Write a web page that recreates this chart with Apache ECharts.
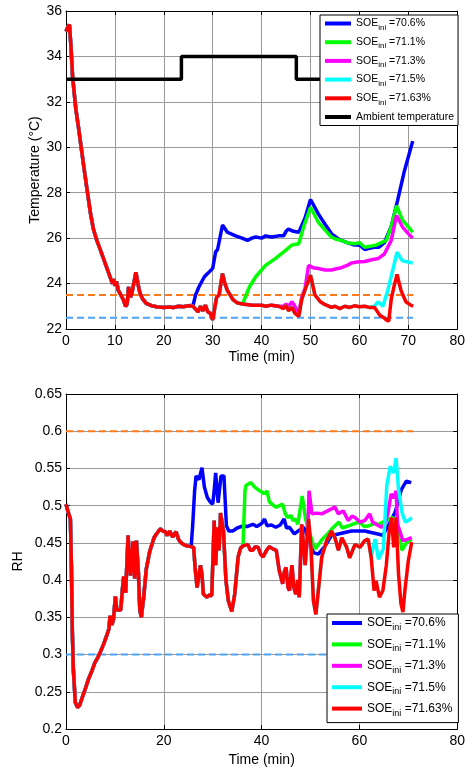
<!DOCTYPE html>
<html>
<head>
<meta charset="utf-8">
<script src="https://cdn.jsdelivr.net/npm/echarts@6/dist/echarts.min.js"></script>
<style>
html,body{margin:0;padding:0;background:#fff;}
#chart{width:468px;height:771px;}
</style>
</head>
<body>
<div id="chart"></div>
<script>
// ---------- tick labels ----------
var timeTicksTop = [0,10,20,30,40,50,60,70,80];
var timeTicksBottom = [0,20,40,60,80];
var tempTicks = [22,24,26,28,30,32,34,36];
var rhTicks = [0.2,0.25,0.3,0.35,0.4,0.45,0.5,0.55,0.6,0.65];

// ---------- legend labels ----------
var soeValues = ['70.6%','71.1%','71.3%','71.5%','71.63%'];
var ambientName = 'Ambient temperature';

// ---------- temperature (°C) vs time (min) ----------
var tempRed = [[0,35.1],[0.4,35.3],[0.7,35.4],[1.0,34.5],[1.35,33.1],[2.0,31.7],[2.6,30.8],[3.1,30.0],[3.8,28.9],[4.4,28.0],[5.0,27.1],[5.6,26.4],[6.3,25.9],[7.0,25.5],[8.0,24.9],[9.0,24.3],[9.5,24.0],[9.8,24.2],[10.0,23.9],[10.3,24.1],[10.7,23.7],[11.2,23.5],[11.7,23.3],[12.2,23.0],[12.5,23.1],[12.8,23.85],[13.2,23.4],[13.5,23.6],[14.3,24.5],[14.7,24.0],[15.1,23.6],[15.6,23.35],[16.4,23.13],[17.5,23.03],[18.5,22.98],[20,22.95],[21,22.97],[22,22.95],[23,23.0],[24,22.98],[25,23.02],[26,23.0],[26.6,22.85],[27,22.75],[27.5,23.0],[28,22.8],[28.5,23.05],[29,22.75],[29.5,22.7],[30,22.4],[30.4,22.9],[30.8,23.4],[31.3,23.5],[32.0,24.44],[32.5,24.0],[33,23.7],[34.1,23.3],[35,23.15],[36.1,23.1],[38.1,23.05],[40,23.05],[40.8,23.0],[42,23.05],[43.5,23.0],[44.5,22.9],[45,23.05],[45.5,22.8],[46.2,22.95],[46.8,22.7],[47.6,22.55],[48.2,23.3],[49,23.8],[50,24.37],[50.9,23.5],[52,23.2],[53,23.07],[54.3,22.95],[55,23.0],[56,22.9],[57,23.0],[58,22.95],[59,23.02],[60,22.98],[61.1,23.0],[62,22.95],[63.1,22.95],[64.2,22.6],[65,22.5],[65.5,22.4],[66,22.35],[66.5,23.3],[67.1,23.9],[67.7,24.4],[68.5,23.7],[69.5,23.2],[70.5,23.05],[71,23.0]];
var tempBlueTail = [[26.0,23.05],[26.5,23.5],[27.2,23.86],[28.3,24.3],[29,24.45],[30,24.67],[30.6,25.4],[31,25.5],[32,26.58],[33,26.26],[34.7,26.1],[36,26.0],[37.1,25.9],[38,26.0],[38.8,26.05],[40,26.0],[40.8,26.1],[42,26.05],[43.5,26.1],[44.5,26.1],[45,26.3],[45.5,26.4],[46.5,26.3],[47.6,26.26],[48.9,26.9],[50,27.7],[51.6,27.07],[53,26.6],[54.3,26.19],[55.5,26.0],[56.3,25.9],[57.5,25.8],[59,25.7],[60,25.7],[61.1,25.5],[62,25.55],[63.1,25.6],[64,25.6],[65.1,25.8],[66.5,26.5],[67.8,27.65],[69.2,28.96],[70.9,30.27]];
var tempGreenTail = [[36.1,23.1],[37.5,23.85],[38.8,24.3],[40.8,24.8],[42.8,25.1],[44.9,25.46],[46.2,25.7],[47.6,25.75],[48.6,26.5],[50,27.36],[51.6,26.7],[53,26.35],[54.3,26.04],[55.3,25.95],[56.3,25.9],[57.5,25.8],[59,25.75],[60,25.8],[61.1,25.6],[62.4,25.65],[63.5,25.7],[64.5,25.8],[65.5,25.9],[66.5,26.5],[67.6,27.43],[68.8,26.8],[70,26.5],[70.9,26.26]];
var tempMagentaTail = [[44.5,23.0],[45,23.1],[45.5,23.0],[46.2,23.2],[46.8,23.0],[47.6,22.7],[48.2,23.4],[48.9,23.8],[49.6,24.8],[50.5,24.7],[51.6,24.66],[53,24.6],[54.3,24.6],[55.3,24.65],[56.3,24.7],[57.5,24.8],[58.3,24.9],[59.5,24.95],[61.1,24.97],[62.5,25.05],[63.8,25.1],[65.1,25.3],[66.5,25.9],[67.6,27.0],[68.8,26.5],[70,26.2],[70.9,26.0]];
var tempCyanTail = [[63.1,23.0],[63.8,23.2],[64.8,23.0],[65.8,23.7],[66.8,24.58],[67.7,25.38],[68.8,25.0],[70,24.95],[70.9,24.9]];
var tempAmbient = [[0,33],[23.6,33],[23.6,34],[47.1,34],[47.1,33],[71,33]];
var tempUpperLimit = [[0,23.5],[71,23.5]];
var tempLowerLimit = [[0,22.5],[71,22.5]];

// ---------- relative humidity vs time (min) ----------
var rhRed = [[0,0.502],[0.5,0.49],[0.9,0.482],[1.1,0.42],[1.3,0.33],[1.5,0.28],[1.9,0.236],[2.35,0.229],[2.8,0.232],[3.2,0.24],[4.0,0.255],[4.6,0.267],[5.3,0.278],[5.9,0.289],[6.5,0.296],[7.0,0.303],[7.7,0.314],[8.3,0.325],[8.8,0.335],[9.0,0.352],[9.4,0.34],[9.7,0.347],[10.1,0.378],[10.4,0.36],[10.7,0.358],[11.2,0.36],[11.5,0.385],[11.8,0.405],[12.2,0.383],[12.7,0.46],[13.0,0.42],[13.2,0.406],[13.7,0.452],[14.05,0.402],[14.4,0.453],[14.8,0.41],[15.1,0.36],[15.4,0.35],[15.9,0.378],[16.4,0.414],[17.1,0.438],[18.0,0.457],[18.5,0.462],[19.3,0.469],[19.8,0.466],[20.3,0.465],[20.7,0.46],[21.2,0.466],[21.8,0.458],[22.5,0.465],[23.0,0.455],[23.4,0.451],[24.0,0.448],[24.7,0.446],[25.6,0.445],[26.1,0.444],[26.4,0.417],[26.8,0.39],[27.1,0.39],[27.5,0.42],[27.8,0.408],[28.1,0.381],[28.8,0.377],[29.3,0.38],[29.8,0.379],[30.3,0.48],[30.6,0.42],[31.0,0.471],[31.3,0.44],[31.6,0.49],[32.2,0.466],[32.7,0.4],[33.2,0.372],[33.9,0.358],[34.5,0.381],[35.2,0.431],[35.7,0.443],[36.2,0.446],[37.2,0.448],[37.7,0.44],[38.2,0.44],[38.7,0.445],[39.3,0.444],[39.8,0.435],[40.3,0.431],[41.0,0.44],[41.6,0.445],[42.3,0.442],[43.0,0.44],[43.6,0.413],[44.3,0.395],[44.6,0.41],[45.0,0.417],[45.4,0.39],[45.7,0.386],[46.2,0.42],[46.6,0.39],[47.0,0.381],[47.4,0.4],[47.7,0.377],[48.2,0.475],[48.6,0.445],[48.9,0.42],[49.6,0.482],[50.1,0.444],[50.6,0.372],[51.1,0.354],[51.6,0.386],[52.3,0.431],[53.3,0.453],[54.3,0.466],[55.0,0.457],[55.7,0.44],[56.4,0.457],[57.4,0.444],[58.0,0.43],[58.4,0.431],[59.1,0.448],[60.1,0.444],[61.1,0.453],[61.8,0.455],[62.4,0.431],[63.0,0.386],[63.4,0.399],[64.1,0.377],[64.8,0.386],[65.5,0.42],[66.1,0.466],[66.6,0.484],[67.0,0.444],[67.5,0.484],[68.0,0.408],[68.5,0.368],[68.9,0.357],[69.3,0.386],[70.0,0.426],[70.7,0.451]];
var rhBlueTail = [[25.9,0.473],[26.3,0.52],[26.6,0.54],[27.2,0.535],[27.8,0.551],[28.3,0.525],[28.9,0.511],[29.5,0.505],[30,0.502],[30.3,0.52],[30.6,0.544],[31.1,0.504],[31.7,0.54],[32.3,0.54],[32.8,0.473],[33.3,0.466],[34.1,0.466],[35,0.47],[36.2,0.473],[37,0.472],[38.2,0.475],[39,0.472],[40,0.476],[40.6,0.482],[41.1,0.473],[42,0.474],[42.9,0.471],[43.8,0.474],[44.6,0.482],[45.1,0.47],[45.7,0.471],[46.7,0.462],[47.5,0.466],[48.6,0.471],[49.6,0.455],[50.6,0.437],[51.6,0.435],[53.0,0.446],[54.3,0.46],[55.7,0.462],[57.0,0.464],[58.4,0.466],[59.7,0.466],[61.1,0.466],[62.4,0.464],[63.8,0.462],[64.8,0.46],[65.9,0.473],[67.3,0.491],[68.6,0.522],[69.6,0.533],[70.6,0.531]];
var rhGreenTail = [[36.6,0.52],[36.8,0.527],[37.8,0.531],[38.6,0.525],[39.6,0.52],[40.6,0.516],[41.1,0.52],[41.6,0.505],[42.5,0.5],[43.0,0.498],[44.3,0.502],[44.8,0.49],[45.3,0.484],[46.0,0.487],[46.4,0.48],[47.0,0.482],[47.4,0.475],[48.3,0.513],[49.0,0.482],[49.5,0.47],[50.4,0.451],[51.0,0.442],[52.4,0.455],[53.5,0.462],[54.4,0.469],[55.8,0.478],[56.5,0.47],[57.8,0.473],[59,0.476],[60,0.478],[61,0.472],[62,0.473],[63,0.476],[64,0.475],[65.4,0.48],[66.7,0.484],[67.7,0.48],[68.7,0.44],[69.7,0.451],[70.7,0.455]];
var rhMagentaTail = [[49.4,0.46],[49.7,0.52],[50.3,0.489],[51.2,0.49],[52.3,0.489],[53.5,0.493],[55.0,0.498],[55.7,0.489],[56.7,0.493],[57.7,0.48],[58.5,0.486],[59.1,0.484],[60.1,0.478],[61.1,0.48],[62.1,0.489],[62.7,0.478],[63.4,0.475],[64.5,0.471],[65.2,0.475],[65.8,0.489],[66.5,0.516],[67.0,0.51],[67.5,0.52],[67.8,0.475],[68.9,0.453],[69.9,0.455],[70.7,0.457]];
var rhCyanTail = [[62.8,0.431],[63.2,0.455],[63.9,0.428],[64.9,0.442],[65.6,0.527],[66.3,0.553],[67,0.544],[67.5,0.564],[68,0.522],[68.7,0.491],[69.4,0.478],[70,0.48],[70.7,0.484]];
var rhUpperLimit = [[0,0.6],[71,0.6]];
var rhLowerLimit = [[0,0.3],[71,0.3]];

// the runs coincide with the red run until they branch off
function withPrefix(base, tail){
  var start = tail[0][0];
  return base.filter(function(p){return p[0] < start;}).concat(tail);
}

var colors = ['#0000ff','#00ff00','#ff00ff','#00ffff','#ff0000'];
var soeNames = soeValues.map(function(v){return 'SOE ini =' + v;});

var tempSeriesData = [
  withPrefix(tempRed, tempBlueTail),
  withPrefix(tempRed, tempGreenTail),
  withPrefix(tempRed, tempMagentaTail),
  withPrefix(tempRed, tempCyanTail),
  tempRed
];
var rhSeriesData = [
  withPrefix(rhRed, rhBlueTail),
  withPrefix(rhRed, rhGreenTail),
  withPrefix(rhRed, rhMagentaTail),
  withPrefix(rhRed, rhCyanTail),
  rhRed
];

var FONT = '"Liberation Sans", Arial, Helvetica, sans-serif';

function legendFormatter(name){
  if (name.indexOf('SOE ini') === 0) {
    return '{a|SOE}{s|ini}{a| ' + name.substring(8) + '}';
  }
  return '{a|' + name + '}';
}

function xAxes(gridIndex, ticks, gap){
  var base = {
    type:'value', gridIndex:gridIndex,
    min:ticks[0], max:ticks[ticks.length-1], interval:ticks[1]-ticks[0],
    axisLine:{show:true, onZero:false, lineStyle:{color:'#000', width:1}},
    axisTick:{show:true, inside:true, length:4, lineStyle:{color:'#000'}}
  };
  var bottom = Object.assign({}, base, {
    position:'bottom',
    axisLabel:{color:'#000', fontSize:14, fontFamily:FONT, margin:5},
    splitLine:{show:true, lineStyle:{color:'#9a9a9a', width:1}},
    name:'Time (min)', nameLocation:'middle', nameGap:gap, nameMoveOverlap:false,
    nameTextStyle:{color:'#000', fontSize:14, fontFamily:FONT}
  });
  var top = Object.assign({}, base, {
    position:'top', axisLabel:{show:false}, splitLine:{show:false}
  });
  return [bottom, top];
}

function yAxes(gridIndex, ticks, name, gap){
  var base = {
    type:'value', gridIndex:gridIndex,
    min:ticks[0], max:ticks[ticks.length-1],
    interval:Math.round((ticks[1]-ticks[0])*1000)/1000,
    axisLine:{show:true, onZero:false, lineStyle:{color:'#000', width:1}},
    axisTick:{show:true, inside:true, length:4, lineStyle:{color:'#000'}}
  };
  var left = Object.assign({}, base, {
    position:'left',
    axisLabel:{color:'#000', fontSize:14, fontFamily:FONT, margin:4,
      formatter:function(v){return String(Math.round(v*100)/100);}},
    splitLine:{show:true, lineStyle:{color:'#9a9a9a', width:1}},
    name:name, nameLocation:'middle', nameGap:gap, nameRotate:90, nameMoveOverlap:false,
    nameTextStyle:{color:'#000', fontSize:14, fontFamily:FONT}
  });
  var right = Object.assign({}, base, {
    position:'right', axisLabel:{show:false}, splitLine:{show:false}
  });
  return [left, right];
}

var xs = xAxes(0, timeTicksTop, 21).concat(xAxes(1, timeTicksBottom, 24));
var ys = yAxes(0, tempTicks, 'Temperature (°C)', 24).concat(yAxes(1, rhTicks, 'RH', 41));

var series = [];
function dashed(data, color, xi, yi){
  series.push({type:'line', data:data, xAxisIndex:xi, yAxisIndex:yi, symbol:'none',
    silent:true, lineStyle:{color:color, width:2, type:[7,4]}, z:2});
}
dashed(tempUpperLimit, '#ff7a1a', 0, 0);
dashed(tempLowerLimit, '#4da3f5', 0, 0);
dashed(rhUpperLimit, '#ff7a1a', 2, 2);
dashed(rhLowerLimit, '#4da3f5', 2, 2);

for (var i = 0; i < 5; i++) {
  series.push({type:'line', name:soeNames[i], data:tempSeriesData[i], xAxisIndex:0, yAxisIndex:0,
    symbol:'none', color:colors[i], lineStyle:{color:colors[i], width:3.5}, z:3});
}
series.push({type:'line', name:ambientName, data:tempAmbient, xAxisIndex:0, yAxisIndex:0,
  symbol:'none', color:'#000', lineStyle:{color:'#000', width:3.5}, z:3});
for (var j = 0; j < 5; j++) {
  series.push({type:'line', name:soeNames[j] + ' ', data:rhSeriesData[j], xAxisIndex:2, yAxisIndex:2,
    symbol:'none', color:colors[j], lineStyle:{color:colors[j], width:3.5}, z:3});
}

var chart = echarts.init(document.getElementById('chart'), null, {renderer:'canvas'});
chart.setOption({
  animation:false,
  backgroundColor:'#fff',
  grid:[
    {left:66, top:11, width:394, height:318},
    {left:66, top:394, width:394, height:335}
  ],
  xAxis:xs,
  yAxis:ys,
  legend:[
    {
      data:soeNames.concat([ambientName]),
      orient:'vertical', left:320, top:15,
      backgroundColor:'#fff', borderColor:'#000', borderWidth:1,
      padding:[3,4,3,5], itemGap:5.2, itemWidth:26, itemHeight:4,
      icon:'rect', selectedMode:false,
      formatter:legendFormatter,
      textStyle:{color:'#000', fontFamily:FONT, rich:{
        a:{fontSize:10.5, fontFamily:FONT, color:'#000', lineHeight:16},
        s:{fontSize:8, fontFamily:FONT, color:'#000', lineHeight:8, verticalAlign:'bottom'}
      }}
    },
    {
      data:soeNames.map(function(n){return n + ' ';}),
      orient:'vertical', left:327, top:614,
      backgroundColor:'#fff', borderColor:'#000', borderWidth:1,
      padding:[3,6,5,5], itemGap:6.4, itemWidth:30, itemHeight:4,
      icon:'rect', selectedMode:false,
      formatter:function(n){return legendFormatter(n.replace(/ $/, ''));},
      textStyle:{color:'#000', fontFamily:FONT, rich:{
        a:{fontSize:12, fontFamily:FONT, color:'#000', lineHeight:18},
        s:{fontSize:9, fontFamily:FONT, color:'#000', lineHeight:9, verticalAlign:'bottom'}
      }}
    }
  ],
  series:series
});
</script>
</body>
</html>
